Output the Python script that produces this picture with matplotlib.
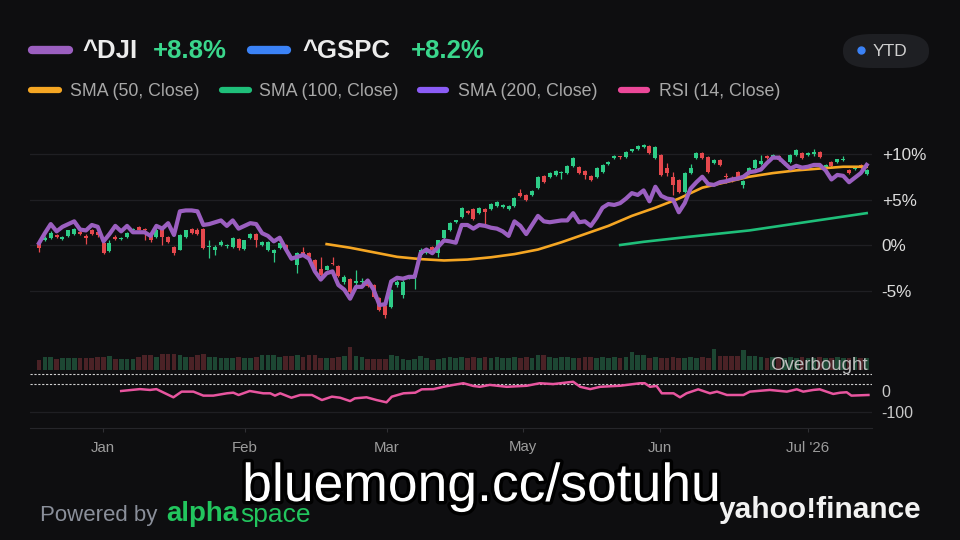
import matplotlib
matplotlib.use('Agg')
from matplotlib import pyplot as plt
from matplotlib.patches import FancyBboxPatch
from matplotlib.lines import Line2D
import matplotlib.patheffects as pe

plt.rcParams['font.family'] = ['Liberation Sans', 'DejaVu Sans']

# ---- data (percent change since start, one value per trading day) ----
gspc_open = [0.2,0.5,0.8,1.1,0.7,1.0,1.2,1.4,1.0,1.6, 1.4,0.2,-0.7,0.9,0.7,0.9,1.7,2.0,1.8,1.0,
             0.9,1.6,0.9,-0.2,-0.5,0.9,1.8,1.7,1.8,-0.2, -0.6,0.0,-0.1,-0.2,0.7,-0.4,0.8,1.2,0.0,-0.6,
             -0.9,-0.3,0.0,-1.3,-2.2,-0.8,-0.9,-1.6,-2.6,-2.7, -2.0,-2.3,-4.1,-3.7,-4.2,-4.1,-3.8,-4.4,-5.8,-6.7,
             -6.8,-4.4,-5.5,-3.6,-3.5,-1.1,-0.9,-0.2,-0.9,0.8, 1.6,2.5,3.1,3.7,4.0,3.5,4.0,4.0,4.3,4.2,
             4.0,4.3,5.7,5.5,5.5,6.3,7.6,7.5,7.7,7.9, 7.9,8.7,8.6,8.1,7.6,7.5,8.0,8.9,9.6,9.7,
             9.7,10.3,10.5,10.8,10.9,9.6,9.9,8.5,7.5,7.1, 5.8,7.9,9.6,10.1,9.7,9.0,9.3,7.5,7.4,8.0,
             6.6,7.9,8.5,8.9,9.8,9.7,9.8,8.9,9.1,9.9, 10.1,9.9,10.0,10.2,8.6,9.1,9.1,9.3,8.2,8.3,
             8.8,7.8]
gspc_close = [-0.3,0.8,1.3,0.9,0.9,1.6,1.8,1.2,0.8,1.2, 1.1,-0.9,0.2,0.7,0.8,1.3,1.8,1.7,1.7,0.5,
              1.6,0.9,0.3,-0.9,1.1,1.6,1.3,1.2,-0.3,-0.1, -0.2,0.3,0.0,0.8,-0.3,0.5,1.2,0.6,0.3,0.3,
              -0.6,0.2,-0.5,-1.5,-0.9,-1.1,-1.3,-2.7,-3.3,-2.3, -2.1,-3.4,-3.5,-5.2,-4.0,-4.0,-4.5,-5.7,-7.1,-7.7,
              -4.9,-4.1,-4.1,-3.4,-3.2,-0.5,-0.6,-0.5,0.5,1.6, 2.4,2.7,4.1,3.5,2.9,4.1,3.6,4.5,4.7,4.4,
              4.3,5.2,5.4,4.9,5.9,7.5,6.9,7.9,8.1,8.0, 8.7,9.6,7.9,7.7,7.1,8.5,8.8,9.1,9.8,9.6,
              10.2,10.5,10.9,11.0,10.1,10.8,7.7,7.9,6.6,5.8, 7.9,8.5,10.1,9.6,8.0,9.3,8.8,7.4,7.2,7.5,
              7.0,8.5,9.3,9.2,9.6,9.9,9.3,9.1,9.9,10.4, 9.6,10.1,10.2,9.7,8.8,8.7,9.4,9.4,7.9,8.4,
              8.5,8.2]
gspc_high = [0.4,1.0,1.5,1.2,1.0,1.7,1.9,1.6,1.2,1.8, 1.5,0.3,0.5,1.1,0.9,1.4,1.9,2.1,1.9,1.2,
             1.9,1.7,1.0,-0.1,1.2,1.7,1.9,1.9,1.9,0.6, 0.0,0.5,0.1,0.9,0.8,0.6,1.3,1.3,0.4,0.4,
             -0.4,0.3,0.1,-1.2,-0.8,-0.2,-0.8,-1.5,-1.3,-2.2, -1.3,-2.2,-3.3,-3.6,-2.8,-3.6,-3.7,-4.3,-5.7,-6.6,
             -4.8,-3.9,-3.9,-3.3,-3.0,-0.3,-0.5,-0.1,0.6,1.7, 2.5,2.8,4.2,3.8,4.1,4.2,4.1,4.6,4.8,4.5,
             4.4,5.3,6.2,5.6,6.0,7.6,7.7,8.0,8.2,8.1, 8.8,9.7,8.7,8.2,7.7,8.6,8.9,9.2,9.9,9.8,
             10.3,10.6,11.0,11.1,11.0,10.9,10.0,9.0,8.0,7.2, 8.0,8.9,10.2,10.2,9.8,9.4,9.4,7.9,7.6,8.1,
             7.1,8.6,9.4,9.9,9.9,10.0,9.9,9.2,10.0,10.5, 10.2,10.2,10.5,10.3,8.9,9.2,9.5,9.8,8.3,8.5,
             8.9,8.3]
gspc_low = [-0.8,0.4,0.7,0.8,0.6,0.9,1.1,1.1,0.1,1.1, 0.9,-1.0,-0.8,0.6,0.6,0.8,1.6,1.6,0.6,0.3,
            0.8,0.0,0.2,-1.1,-0.6,0.8,1.2,1.1,-0.4,-1.4, -1.1,-0.1,-0.3,-0.3,-0.5,-0.6,0.7,-0.2,-0.1,-0.7,
            -1.9,-0.4,-0.6,-1.6,-3.1,-1.2,-1.4,-2.8,-3.4,-2.8, -2.2,-3.5,-4.3,-5.3,-4.4,-4.3,-4.6,-5.8,-7.3,-8.0,
            -6.9,-4.6,-5.8,-3.7,-4.8,-1.2,-1.0,-0.6,-1.3,0.7, 1.5,2.4,3.0,3.4,2.8,3.4,2.3,3.9,4.2,4.1,
            3.9,4.2,5.3,4.8,5.4,6.2,6.8,7.4,7.6,7.2, 7.8,8.6,7.8,7.3,7.0,7.4,7.9,8.8,9.5,9.5,
            9.6,10.2,10.4,10.7,10.0,9.5,7.6,7.6,5.5,5.7, 5.7,7.8,9.5,9.5,7.9,8.9,8.7,6.8,6.9,7.4,
            6.3,7.8,8.4,8.8,9.5,9.6,9.2,8.8,9.0,9.8, 9.5,9.8,9.8,9.6,8.5,8.6,9.0,9.2,7.8,8.2,
            8.4,7.7]
dji = [0.2,1.3,2.3,1.5,2.0,2.3,2.6,1.7,1.6,2.2, 2.0,0.4,1.2,2.1,1.5,2.1,1.4,1.4,1.4,1.0,
       2.1,1.8,2.4,1.1,3.7,3.8,3.8,3.7,2.2,2.3, 2.5,2.7,2.1,2.7,1.8,2.1,2.4,2.3,1.3,1.0,
       0.4,0.8,-0.4,-1.5,-1.3,-1.1,-1.5,-2.9,-3.8,-3.1, -2.9,-4.4,-4.9,-5.9,-4.6,-4.6,-3.9,-4.9,-6.6,-6.5,
       -4.0,-3.6,-3.7,-3.5,-3.5,-0.9,-0.5,-0.9,-0.2,0.5, 0.4,0.25,2.2,2.2,1.8,2.2,2.1,1.9,1.8,1.5,
       1.0,2.6,2.1,1.2,2.2,3.2,2.6,2.5,2.6,2.7, 2.7,3.5,2.5,2.6,2.1,3.0,4.1,4.5,4.4,4.6,
       5.1,5.7,5.5,6.0,4.8,6.4,5.4,5.1,5.0,3.6, 4.6,6.2,6.9,7.5,6.7,6.6,6.9,7.0,7.2,7.3,
       7.5,8.0,8.1,8.3,9.0,9.6,9.6,9.0,8.4,8.7, 8.5,8.6,8.8,8.8,8.2,7.2,7.7,7.6,6.9,7.4,
       7.9,8.8]
volume_m = [325,445,445,385,420,420,420,420,420,420, 445,445,465,385,385,385,385,445,500,500,
            445,535,560,560,500,445,445,500,560,445, 445,420,420,420,445,420,420,445,500,500,
            500,445,465,465,500,445,500,500,420,420, 420,445,465,795,465,445,385,385,385,385,
            500,465,385,325,385,465,420,350,385,420, 438,420,455,420,445,420,438,420,445,420,
            420,455,420,438,420,500,500,438,420,455, 445,420,420,438,455,420,445,420,438,420,
            445,620,500,500,420,445,420,420,438,420, 420,445,420,438,420,710,465,465,465,465,
            700,465,465,445,420,438,420,420,438,420, 445,420,420,438,420,420,445,420,420,438,
            420,420]

sma50_day = [49,53,57,61,65,69,73,77,81,85,89,93,97,101,105,109,113,117,121,125,129,133,137,141]
sma50 = [0.1,-0.3,-0.8,-1.3,-1.55,-1.7,-1.6,-1.35,-1.0,-0.5,0.3,1.2,2.1,3.2,4.1,5.1,6.3,6.9,7.5,7.9,8.2,8.4,8.6,8.6]
sma100_day = [99,103,110,121,131,141]
sma100 = [0.0,0.35,0.85,1.6,2.55,3.5]

rsi_day = [14,17.2,18.9,20.0,22.9,24.3,26.3,28.0,29.7,32.0,33.1,34.0,35.9,38.2,39.4,40.2,41.1,43.0,44.5,46.5,
           48.2,49.9,51.3,53.0,53.8,55.8,57.5,59.2,60.1,62.1,64.1,65.2,67.2,68.9,70.6,72.3,74.0,75.1,76.8,79.7,
           83.1,85.3,87.6,91.0,92.2,93.9,95.6,99.0,102.4,103.2,104.1,105.2,106.1,108.1,109.2,110.3,112.3,114.3,
           115.5,117.2,120.0,121.1,124.5,127.4,129.1,130.2,131.9,133.0,135.3,136.5,137.6,138.4,141.3]
rsi = [0,9,5,9,-30,-3,-3,-22,-22,-11,-8,-19,0,-11,-11,-22,-11,-32,-19,-19,
       -43,-27,-32,-48,-35,-30,-43,-54,-27,-11,-8,8,9,20,29,37,24,20,29,20,
       25,37,33,44,20,9,20,25,37,37,20,24,-11,-11,-30,-11,8,-11,
       -3,-19,-19,-3,5,-3,8,-3,5,8,-14,-8,-6,-22,-19]

month_names = ['Jan', 'Feb', 'Mar', 'May', 'Jun', "Jul '26"]
month_day = [10.9, 35.1, 59.2, 82.4, 105.8, 131.0]

# ---- styling ----
bg = '#0e0e10'
grid = '#1f1f23'
up = '#2ecc87'
down = '#e5484d'
vol_up = '#1d4733'
vol_down = '#4b2226'
purple = '#9b5fc0'

fig = plt.figure(figsize=(9.6, 5.4), dpi=100, facecolor=bg)

def px_axes(l, t, r, b):
    ax = fig.add_axes([l / 960, 1 - b / 540, (r - l) / 960, (b - t) / 540])
    ax.set_facecolor('none')
    for s in ax.spines.values():
        s.set_visible(False)
    ax.set_xlim((30 - 39) / 5.87, (872 - 39) / 5.87)
    return ax

def ftext(x, y, s, **kw):
    fig.text(x / 960, 1 - y / 540, s, va='center', **kw)

days = list(range(len(gspc_close)))

# main price panel
ax = px_axes(30, 130, 872, 330)
ax.set_ylim((245 - 330) / 9.1, (245 - 130) / 9.1)
for g in [10, 5, 0, -5]:
    ax.axhline(g, color=grid, lw=0.9, zorder=0)
colors = [up if c >= o else down for o, c in zip(gspc_open, gspc_close)]
ax.vlines(days, gspc_low, gspc_high, colors=colors, lw=0.9, zorder=2)
heights = [c - o if abs(c - o) > 0.1 else 0.12 for o, c in zip(gspc_open, gspc_close)]
ax.bar(days, heights, bottom=gspc_open, width=0.68, color=colors, zorder=3)
ax.plot(sma100_day, sma100, color='#1fbf7a', lw=1.9, zorder=4)
ax.plot(sma50_day, sma50, color='#f5a623', lw=1.9, zorder=4)
ax.plot(days, dji, color=purple, lw=3, solid_joinstyle='round', zorder=5)
ax.yaxis.tick_right()
ax.set_yticks([10, 5, 0, -5])
ax.set_yticklabels(['+10%', '+5%', '0%', '-5%'])
ax.tick_params(axis='y', length=0, pad=7, labelsize=12.3, labelcolor='#dcdcdc')
ax.set_xticks([])

# volume panel
axv = px_axes(30, 339.5, 872, 369.5)
axv.set_ylim(0, 1050)
vcols = [vol_up if c >= o else vol_down for o, c in zip(gspc_open, gspc_close)]
axv.bar(days, volume_m, width=0.8, color=vcols)
axv.set_xticks([])
axv.set_yticks([])

# RSI panel
axr = px_axes(30, 370, 872, 428)
axr.set_ylim((391 - 428) * 100 / 21, (391 - 370) * 100 / 21)
axr.axhline(80, color='#cfcfcf', lw=0.8, ls=(0, (2, 1.5)))
axr.axhline(35, color='#cfcfcf', lw=0.8, ls=(0, (2, 1.5)))
axr.axhline(-100, color=grid, lw=0.9)
axr.spines['bottom'].set_visible(True)
axr.spines['bottom'].set_color('#26262a')
axr.plot(rsi_day, rsi, color='#e8559f', lw=1.8)
axr.yaxis.tick_right()
axr.set_yticks([0, -100])
axr.set_yticklabels(['0', '-100'])
axr.tick_params(axis='y', length=0, pad=7, labelsize=11.5, labelcolor='#c8c8c8')
axr.set_xticks(month_day)
axr.set_xticklabels(month_names)
axr.tick_params(axis='x', length=3, color='#303034', pad=6, labelsize=10.8, labelcolor='#9c9c9c')
axr.text(1.0 - 4 / 842, 80, 'Overbought', transform=axr.get_yaxis_transform(),
         ha='right', va='bottom', fontsize=13.5, color='#bdbdbd')

# ---- header legend ----
def pill(x0, x1, y, color, lw):
    fig.add_artist(Line2D([x0 / 960, x1 / 960], [1 - y / 540] * 2, color=color,
                          lw=lw, solid_capstyle='round'))

pill(32, 69, 50, purple, 6)
ftext(82, 51, '^DJI', fontsize=18.5, fontweight='bold', color='#ececec')
ftext(153, 51, '+8.8%', fontsize=18.5, fontweight='bold', color='#3ad68c')
pill(251, 287, 50, '#3b82f6', 6)
ftext(302, 51, '^GSPC', fontsize=18.5, fontweight='bold', color='#ececec')
ftext(411, 51, '+8.2%', fontsize=18.5, fontweight='bold', color='#3ad68c')

row2 = [(31, 59, 70, '#f5a623', 'SMA (50, Close)'),
        (222, 249, 259, '#1fbf7a', 'SMA (100, Close)'),
        (420, 446, 458, '#8b5cf6', 'SMA (200, Close)'),
        (621, 647, 659, '#ec4899', 'RSI (14, Close)')]
for a, b, tx, c, label in row2:
    pill(a, b, 90, c, 4.5)
    ftext(tx, 91, label, fontsize=12.8, color='#a8a8a8')

# YTD button
fig.add_artist(FancyBboxPatch((843 / 960, 1 - 68 / 540), 86 / 960, 34 / 540,
                              boxstyle='round,pad=0,rounding_size=0.03',
                              transform=fig.transFigure, facecolor='#1e1f23', edgecolor='none'))
fig.add_artist(Line2D([861 / 960], [1 - 50 / 540], marker='o', ms=5, color='#3b82f6'))
ftext(873, 51, 'YTD', fontsize=12.5, color='#cfcfcf')

# ---- footer ----
ftext(40, 516, 'Powered by', fontsize=16, color='#8a8f9a')
ftext(166, 514, 'alpha', fontsize=20, fontweight='bold', color='#22c55e')
ftext(240, 515, 'space', fontsize=19, color='#22c55e')
ftext(921, 510, 'yahoo!finance', fontsize=21.5, fontweight='bold', color='#f2f2f2', ha='right')

# watermark
fig.text(482 / 960, 1 - 487 / 540, 'bluemong.cc/sotuhu', ha='center', va='center',
         fontsize=38.5, color='white',
         path_effects=[pe.withStroke(linewidth=5, foreground='black')])

fig.savefig('out.png', dpi=100, facecolor=bg)
